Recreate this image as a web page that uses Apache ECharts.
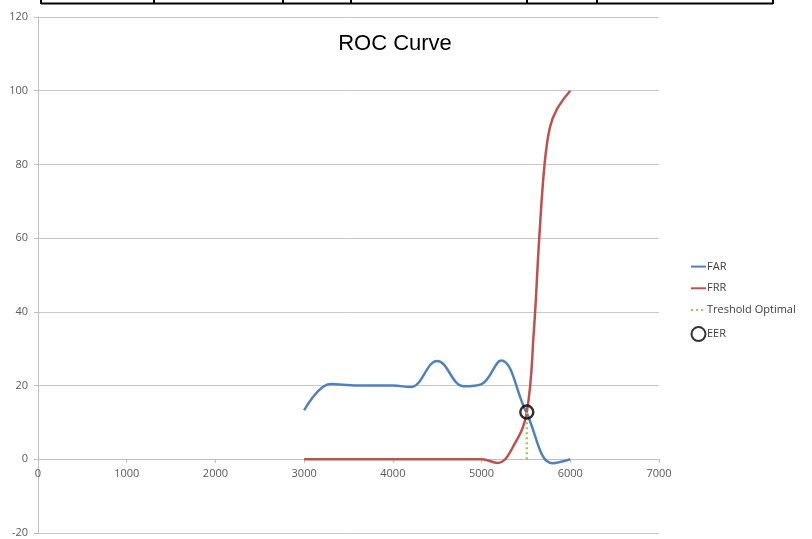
<!DOCTYPE html>
<html>
<head>
<meta charset="utf-8">
<script src="https://cdn.jsdelivr.net/npm/echarts@6/dist/echarts.min.js"></script>
<style>
  html, body { margin: 0; padding: 0; background: #fff; }
  #rocChart { width: 812px; height: 539px; }
</style>
</head>
<body>
<div id="rocChart"></div>
<script>
// values: [threshold, rate]
var farPoints = [
  [3000, 13.3], [3300, 20.4], [3600, 20], [4000, 20], [4200, 19.6],
  [4500, 26.7], [4800, 19.8], [5000, 20.4], [5220, 26.8], [5500, 13],
  [5800, -1.1], [6000, 0]
];
var frrPoints = [
  [3000, 0], [4000, 0], [5000, 0], [5180, -1], [5380, 4.5], [5510, 12.8],
  [5590, 35], [5650, 60], [5710, 80], [5770, 90], [5850, 95], [6000, 100]
];
var thresholdPoints = [[5510, 0], [5510, 12.8]];
var eerPoint = [[5510, 12.8]];
var xTicks = [0, 1000, 2000, 3000, 4000, 5000, 6000, 7000];
var yTicks = [-20, 0, 20, 40, 60, 80, 100, 120];
// cell borders of the table cut off at the top
var tableCols = [41, 154, 283, 351, 527, 597, 773];

var labelFont = { fontFamily: 'Open Sans', fontSize: 11, color: '#595959' };

var chartDom = document.getElementById('rocChart');
var myChart = echarts.init(chartDom);

var tableLines = [{
  type: 'line',
  shape: { x1: tableCols[0], y1: 3.5, x2: tableCols[tableCols.length - 1], y2: 3.5 },
  style: { stroke: '#000', lineWidth: 2 }
}];
tableCols.forEach(function (x) {
  tableLines.push({
    type: 'line',
    shape: { x1: x, y1: 0, x2: x, y2: 4 },
    style: { stroke: '#000', lineWidth: 2 }
  });
});

var option = {
  animation: false,
  backgroundColor: '#fff',
  title: {
    text: 'ROC Curve',
    left: 390,
    top: 28,
    textAlign: 'center',
    textStyle: { fontFamily: 'Liberation Sans', fontSize: 22, fontWeight: 'normal', color: '#000' }
  },
  legend: {
    orient: 'vertical',
    left: 690,
    top: 261,
    padding: 0,
    itemGap: 10.5,
    itemWidth: 15,
    itemHeight: 14,
    textStyle: { fontFamily: 'Open Sans', fontSize: 11, color: '#404040', padding: [0, 0, 0, -4] },
    data: [
      { name: 'FAR', itemStyle: { opacity: 0 } },
      { name: 'FRR', itemStyle: { opacity: 0 } },
      { name: 'Treshold Optimal', itemStyle: { opacity: 0 } },
      { name: 'EER' }
    ]
  },
  grid: { left: 38, right: 153, top: 17, bottom: 6, outerBoundsMode: 'none', containLabel: false },
  xAxis: {
    type: 'value',
    min: xTicks[0],
    max: xTicks[xTicks.length - 1],
    interval: 1000,
    offset: -74,
    axisLine: { onZero: false, lineStyle: { color: '#bfbfbf', width: 1 } },
    axisTick: { show: true, length: 4, lineStyle: { color: '#bfbfbf' } },
    axisLabel: Object.assign({ margin: 9, formatter: function (v) { return String(v); } }, labelFont),
    splitLine: { show: false }
  },
  yAxis: {
    type: 'value',
    min: yTicks[0],
    max: yTicks[yTicks.length - 1],
    interval: 20,
    axisLine: { show: true, lineStyle: { color: '#bfbfbf', width: 1 } },
    axisTick: { show: true, length: 4, lineStyle: { color: '#bfbfbf' } },
    axisLabel: Object.assign({ margin: 10 }, labelFont),
    splitLine: { show: true, lineStyle: { color: '#c8c8c8', width: 1 } }
  },
  series: [
    {
      name: 'FAR',
      type: 'line',
      data: farPoints,
      smooth: 0.4,
      symbol: 'none',
      color: '#4F81BD',
      lineStyle: { width: 2.5, color: '#4F81BD' }
    },
    {
      name: 'FRR',
      type: 'line',
      data: frrPoints,
      smooth: 0.4,
      symbol: 'none',
      color: '#C0504D',
      lineStyle: { width: 2.5, color: '#C0504D' }
    },
    {
      name: 'Treshold Optimal',
      type: 'line',
      data: thresholdPoints,
      symbol: 'none',
      color: '#92D050',
      lineStyle: { width: 2.5, type: [2, 3], color: '#92D050' }
    },
    {
      name: 'EER',
      type: 'scatter',
      data: eerPoint,
      symbol: 'circle',
      symbolSize: 13,
      z: 5,
      itemStyle: { color: 'rgba(255,255,255,0)', borderColor: '#000', borderWidth: 2.5 }
    }
  ],
  graphic: tableLines
};

option && myChart.setOption(option);
</script>
</body>
</html>
